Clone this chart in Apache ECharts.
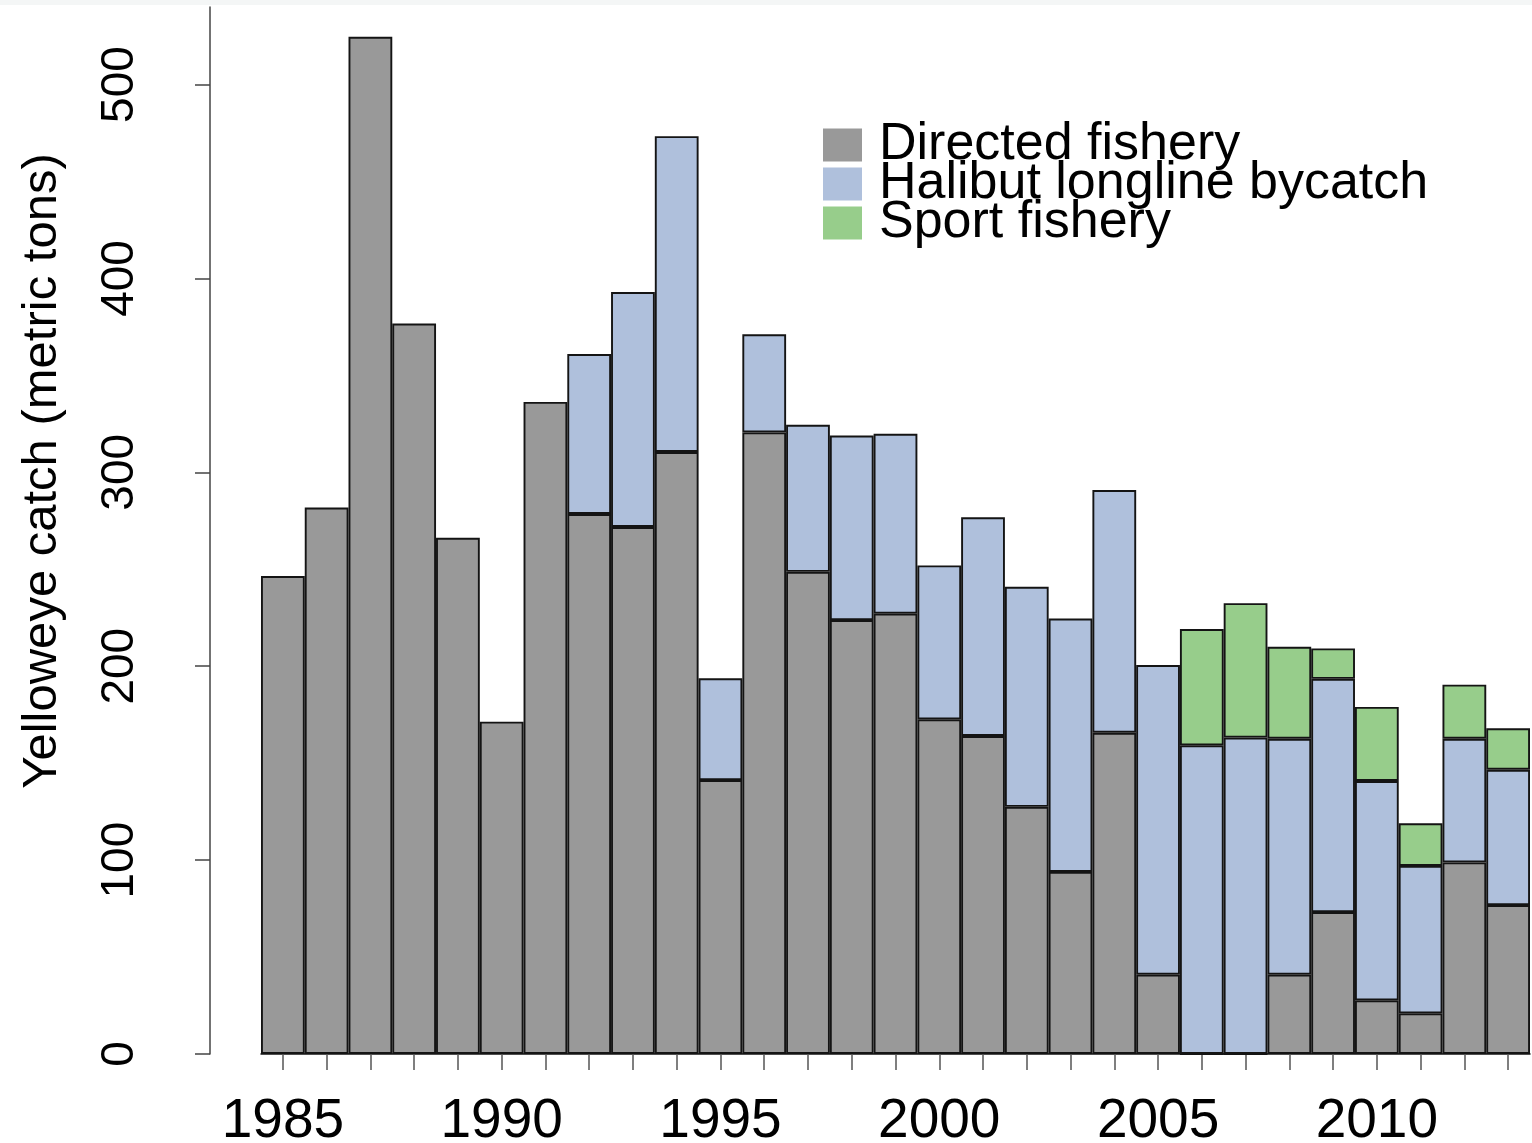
<!DOCTYPE html>
<html>
<head>
<meta charset="utf-8">
<title>Yelloweye catch</title>
<script src="https://cdn.jsdelivr.net/npm/echarts@6/dist/echarts.min.js"></script>
<style>
  html, body { margin: 0; padding: 0; background: #ffffff; }
  #chart { width: 1532px; height: 1143px; }
</style>
</head>
<body>
<div id="chart"></div>
<script>
// Yelloweye rockfish catch by source (metric tons), 1985-2013
const years = ['1985', '1986', '1987', '1988', '1989', '1990', '1991', '1992', '1993', '1994',
  '1995', '1996', '1997', '1998', '1999', '2000', '2001', '2002', '2003', '2004',
  '2005', '2006', '2007', '2008', '2009', '2010', '2011', '2012', '2013'];

const directedFishery = [246.5, 281.8, 524.6, 376.7, 266.2, 171.4, 336.3, 278.5, 271.8, 310.5,
  141.3, 320.6, 248.7, 223.8, 227.1, 172.6, 164.0, 127.5, 93.9, 165.7,
  40.9, 0, 0, 40.9, 73.2, 27.7, 21.0, 98.8, 76.8];

const halibutBycatch = [null, null, null, null, null, null, null, 82.5, 121.2, 162.9,
  52.5, 50.6, 75.8, 95.2, 92.8, 79.4, 112.8, 113.5, 130.7, 125.2,
  159.7, 159.2, 163.2, 121.7, 120.3, 113.1, 76.0, 63.8, 69.8];

const sportFishery = [null, null, null, null, null, null, null, null, null, null,
  null, null, null, null, null, null, null, null, null, null,
  null, 60.0, 69.3, 47.4, 15.7, 38.2, 22.0, 27.9, 21.4];

const seriesNames = ['Directed fishery', 'Halibut longline bycatch', 'Sport fishery'];
const yTicks = [0, 100, 200, 300, 400, 500];

const FONT = '"Liberation Sans", Arial, Helvetica, sans-serif';
const colors = ['#999999', '#afc0dc', '#97cd8b'];

const chart = echarts.init(document.getElementById('chart'), null, { renderer: 'canvas' });

function barSeries(name, data, color) {
  return {
    name: name,
    type: 'bar',
    stack: 'catch',
    data: data,
    barCategoryGap: '0%',
    itemStyle: { color: color, borderColor: '#141414', borderWidth: 1.9 },
    emphasis: { disabled: true },
    animation: false
  };
}

chart.setOption({
  animation: false,
  backgroundColor: '#ffffff',
  grid: { left: 261, right: 2, top: 7, bottom: 89, containLabel: false, outerBoundsMode: 'none' },
  legend: {
    orient: 'vertical',
    left: 818,
    top: 114,
    itemWidth: 39,
    itemHeight: 33,
    itemGap: -13,
    icon: 'rect',
    itemStyle: { borderWidth: 0 },
    selectedMode: false,
    textStyle: {
      fontFamily: FONT,
      fontSize: 52,
      color: '#000000',
      padding: [0, 0, 0, 12]
    },
    data: seriesNames
  },
  xAxis: {
    type: 'category',
    data: years,
    axisLine: { show: true, lineStyle: { color: '#141414', width: 1.5 } },
    axisTick: { show: true, interval: 0, alignWithLabel: true, length: 16, lineStyle: { color: '#555555', width: 1.5 } },
    axisLabel: {
      interval: 4,
      margin: 40,
      fontFamily: FONT,
      fontSize: 55,
      color: '#000000'
    },
    splitLine: { show: false }
  },
  yAxis: {
    type: 'value',
    min: 0,
    max: 540,
    offset: 51,
    axisLine: { show: true, lineStyle: { color: '#444444', width: 1.5 } },
    axisTick: { show: true, length: 15, customValues: yTicks, lineStyle: { color: '#444444', width: 1.5 } },
    axisLabel: {
      customValues: yTicks,
      rotate: 90,
      margin: 67,
      fontFamily: FONT,
      fontSize: 46,
      color: '#000000'
    },
    splitLine: { show: false }
  },
  graphic: [
    {
      type: 'rect',
      left: 0,
      top: 0,
      shape: { width: 1532, height: 5 },
      style: { fill: '#f4f6f6' },
      silent: true
    },
    {
      type: 'text',
      x: 42,
      y: 471,
      rotation: Math.PI / 2,
      style: {
        text: 'Yelloweye catch (metric tons)',
        fontFamily: FONT,
        fontSize: 49,
        fill: '#000000',
        textAlign: 'center',
        textVerticalAlign: 'middle'
      },
      silent: true
    }
  ],
  series: [
    barSeries(seriesNames[0], directedFishery, colors[0]),
    barSeries(seriesNames[1], halibutBycatch, colors[1]),
    barSeries(seriesNames[2], sportFishery, colors[2])
  ]
});
</script>
</body>
</html>
